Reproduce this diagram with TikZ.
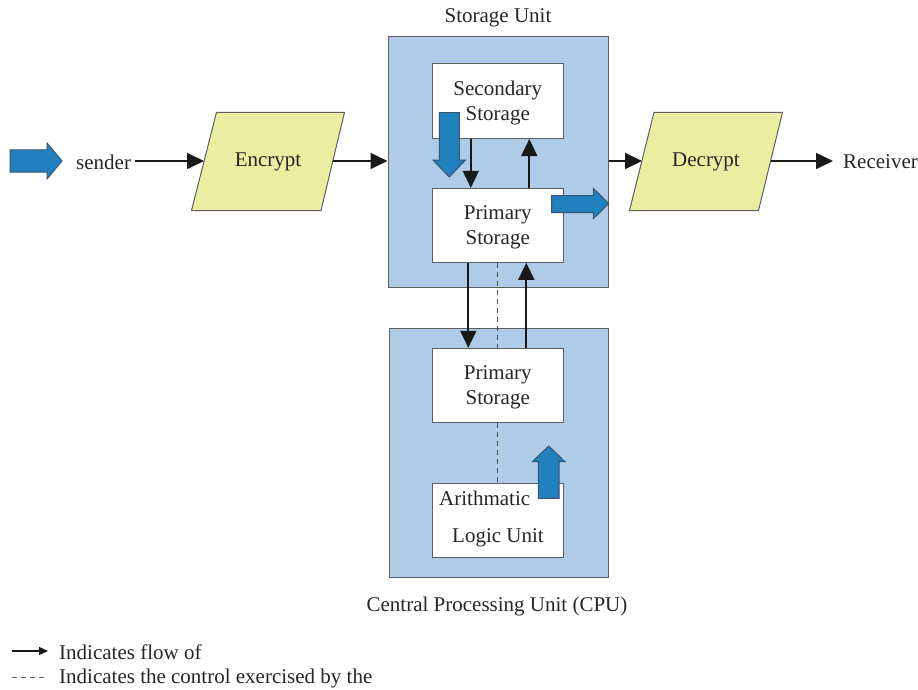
\documentclass[tikz,border=0pt]{standalone}
\usepackage{fontspec}
\setmainfont{Liberation Serif}
\usetikzlibrary{arrows.meta,calc}
\definecolor{boxblue}{RGB}{174,203,231}
\definecolor{paral}{RGB}{234,238,160}
\definecolor{arrblue}{RGB}{33,128,190}
\definecolor{arredge}{RGB}{55,85,115}
\definecolor{edgegray}{RGB}{95,95,95}
\tikzset{
  txt/.style={font=\fontsize{21}{25}\selectfont, text=black!85, align=center, inner sep=0pt},
  unitbox/.style={draw=edgegray, line width=1pt, fill=boxblue, inner sep=0pt},
  wbox/.style={draw=edgegray, line width=1pt, fill=white, inner sep=0pt, minimum width=131pt, minimum height=74pt},
  flow/.style={line width=1.7pt, black!90, -{Triangle[length=17pt,width=16pt]}},
  ctrl/.style={line width=1.2pt, edgegray!80!black, dash pattern=on 5pt off 4pt},
  paralbox/.style={draw=edgegray, line width=1pt, fill=paral},
  bigarrow/.style={draw=arredge, line width=1pt, fill=arrblue},
}
\begin{document}
\begin{tikzpicture}[x=1pt,y=-1pt]
\useasboundingbox (0,0) rectangle (918,690);
% unit boxes
\node[unitbox, minimum width=220pt, minimum height=250pt] (stor) at (498,162) {};
\node[unitbox, minimum width=219pt, minimum height=249pt] (cpu) at (498.5,453) {};
\node[txt] (storT) at (498,18) {Storage Unit};
\node[txt] (cpuT) at (497,606) {Central Processing Unit (CPU)};
% inner boxes
\node[wbox, minimum height=75pt] (sec) at (497.8,101) {};
\node[wbox] (pri1) at (497.8,225.3) {};
\node[wbox] (pri2) at (497.8,385.3) {};
\node[wbox] (alu) at (497.8,520.5) {};
\node[txt] (secT) at (497.8,103) {Secondary\\Storage};
\node[txt] (pri1T) at (497.8,227.5) {Primary\\Storage};
\node[txt] (pri2T) at (497.8,387.5) {Primary\\Storage};
\node[txt, anchor=west] (aluA) at (439,498) {Arithmatic};
\node[txt] (aluB) at (498,538) {Logic Unit};
% parallelograms
\draw[paralbox] (216.5,112.3) -- (344.5,112.3) -- (321,210.5) -- (191.5,210.5) -- cycle;
\draw[paralbox] (654,112.3) -- (782.5,112.3) -- (758.5,210.5) -- (629.5,210.5) -- cycle;
\node[txt] (enc) at (268,162) {Encrypt};
\node[txt] (dec) at (706,162) {Decrypt};
\coordinate (encL) at (204,161);
\coordinate (encR) at (333,161);
\coordinate (decL) at (642,161);
\coordinate (decR) at (770.5,161);
\coordinate (recvE) at (833,161);
% sender / receiver
\node[txt, anchor=west] (send) at (76,162) {sender};
\node[txt, anchor=west] (recv) at (843,162) {Receiver};
\draw[bigarrow] (10,150) -- (47,150) -- (47,143) -- (62,161) -- (47,179) -- (47,172) -- (10,172) -- cycle;
% flows
\draw[flow] (send.east |- encL) ++(4,0) -- (encL);
\draw[flow] (encR) -- (encR -| stor.west);
\draw[flow] (stor.east |- decL) -- (decL);
\draw[flow] (decR) -- (recvE);
\draw[flow] ([xshift=-27pt]sec.south) -- ([xshift=-27pt]pri1.north);
\draw[flow] ([xshift=31.5pt]pri1.north) -- ([xshift=31.5pt]sec.south);
\draw[flow] ([xshift=-29.5pt]pri1.south) -- ([xshift=-29.5pt]pri2.north);
\draw[flow] ([xshift=28.5pt]pri2.north) -- ([xshift=28.5pt]pri1.south);
\draw[ctrl] (pri1.south) -- (pri2.north);
\draw[ctrl] (pri2.south) -- (alu.north);
% big blue arrows
\draw[bigarrow] (439.3,112.7) -- (459.3,112.7) -- (459.3,160) -- (465.5,160) -- (449.3,177) -- (433,160) -- (439.3,160) -- cycle;
\draw[bigarrow] (551.7,195.7) -- (593.3,195.7) -- (593.3,188.3) -- (608.7,203.5) -- (593.3,218.7) -- (593.3,212.7) -- (551.7,212.7) -- cycle;
\draw[bigarrow] (538.3,498.3) -- (538.3,461.7) -- (532.3,461.7) -- (548.7,446) -- (565,461.7) -- (559,461.7) -- (559,498.3) -- cycle;
% legend
\coordinate (l1a) at (12,651);
\coordinate (l1b) at (48,651);
\coordinate (l2a) at (12,677);
\coordinate (l2b) at (47,677);
\draw[line width=1.2pt, black!90, -{Triangle[length=9pt,width=8pt]}] (l1a) -- (l1b);
\draw[line width=0.9pt, edgegray, dash pattern=on 5pt off 4pt] (l2a) -- (l2b);
\node[txt, anchor=west] (leg1) at (59,652) {Indicates flow of};
\node[txt, anchor=west] (leg2) at (59,678) {Indicates the control exercised by the};
\end{tikzpicture}
\end{document}
